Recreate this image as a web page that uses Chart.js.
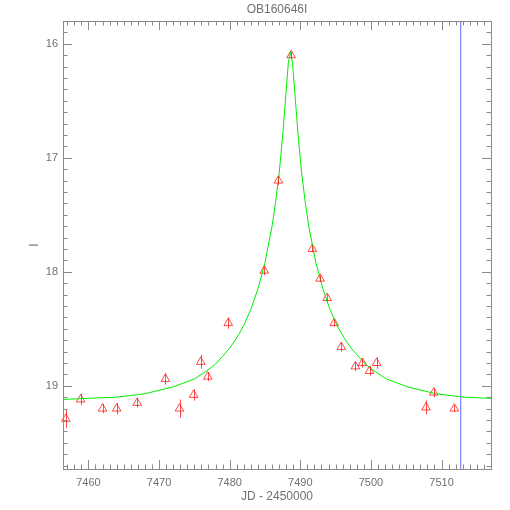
<!DOCTYPE html>
<html>
<head>
<meta charset="utf-8">
<script src="https://cdn.jsdelivr.net/npm/chart.js@4"></script>
<style>
  html, body { margin: 0; padding: 0; background: #fff; }
</style>
</head>
<body>
<canvas id="lcChart" width="510" height="510"></canvas>
<script>
const chartTitle = 'OB160646I';
const xTitle = 'JD - 2450000';
const yTitle = 'I';

// observed points (JD - 2450000, I mag, error)
const obsJD  = [7456.8, 7458.9, 7462.0, 7464.0, 7466.9, 7470.9, 7472.9, 7474.9, 7475.9, 7476.9,
                7479.8, 7484.9, 7486.9, 7488.7, 7491.7, 7492.8, 7493.8, 7494.8, 7495.8, 7497.8,
                7498.8, 7499.8, 7500.8, 7507.8, 7508.9, 7511.8];
const obsMag = [19.29, 19.12, 19.20, 19.20, 19.15, 18.94, 19.20, 19.08, 18.79, 18.92,
                18.45, 17.99, 17.20, 16.10, 17.80, 18.06, 18.23, 18.45, 18.66, 18.83,
                18.80, 18.87, 18.80, 19.19, 19.06, 19.20];
const obsErr = [0.08, 0.05, 0.04, 0.05, 0.04, 0.05, 0.08, 0.05, 0.06, 0.04,
                0.05, 0.04, 0.04, 0.03, 0.03, 0.03, 0.03, 0.03, 0.04, 0.04,
                0.04, 0.04, 0.05, 0.06, 0.04, 0.03];

// model curve
const fitJD  = [7456.4, 7460.0, 7464.0, 7468.0, 7470.0, 7472.0, 7475.0, 7476.5, 7478.0, 7480.0,
                7481.0, 7482.0, 7483.0, 7484.0, 7485.0, 7486.0, 7486.5, 7487.0, 7487.5, 7488.0,
                7488.3, 7488.6, 7488.9, 7489.2, 7489.7, 7490.2, 7490.7, 7491.2, 7492.2, 7493.2,
                7494.2, 7495.2, 7496.2, 7497.2, 7499.2, 7500.7, 7502.2, 7505.2, 7507.2, 7509.2,
                7513.2, 7517.0];
const fitMag = [19.12, 19.11, 19.10, 19.07, 19.04, 19.01, 18.94, 18.88, 18.81, 18.67,
                18.58, 18.47, 18.33, 18.15, 17.92, 17.60, 17.39, 17.14, 16.81, 16.41,
                16.17, 16.07, 16.17, 16.41, 16.81, 17.14, 17.39, 17.60, 17.92, 18.15,
                18.33, 18.47, 18.58, 18.67, 18.81, 18.88, 18.94, 19.01, 19.04, 19.07,
                19.10, 19.11];

const markerJD = 7512.7;
const xRange = [7456.4, 7517.0];
const yRange = [15.80, 19.73];

const axisColor = '#8a8a8a';
const textColor = '#707070';
const fontFamily = '"Liberation Sans", Arial, sans-serif';

// IDL style frame with inward ticks on all four sides, plus the plot title
const frameTicks = {
    id: 'frameTicks',
    afterDraw(chart) {
        const { ctx, chartArea: a, scales: { x, y } } = chart;
        ctx.save();
        ctx.strokeStyle = axisColor;
        ctx.lineWidth = 1;
        ctx.strokeRect(Math.round(a.left) + 0.5, Math.round(a.top) + 0.5,
                       Math.round(a.right - a.left), Math.round(a.bottom - a.top));
        ctx.beginPath();
        for (let v = Math.ceil(xRange[0]); v <= xRange[1]; v++) {
            const px = Math.round(x.getPixelForValue(v)) + 0.5;
            const len = v % 10 === 0 ? 9 : 4.5;
            ctx.moveTo(px, a.bottom); ctx.lineTo(px, a.bottom - len);
            ctx.moveTo(px, a.top); ctx.lineTo(px, a.top + len);
        }
        for (let i = Math.ceil(yRange[0] * 10); i <= Math.floor(yRange[1] * 10); i++) {
            const py = Math.round(y.getPixelForValue(i / 10)) + 0.5;
            const len = i % 10 === 0 ? 9 : 4.5;
            ctx.moveTo(a.left, py); ctx.lineTo(a.left + len, py);
            ctx.moveTo(a.right, py); ctx.lineTo(a.right - len, py);
        }
        ctx.stroke();
        ctx.fillStyle = textColor;
        ctx.font = '12px ' + fontFamily;
        ctx.textAlign = 'center';
        ctx.textBaseline = 'middle';
        ctx.fillText(chartTitle, (a.left + a.right) / 2, 10);
        ctx.restore();
    }
};

const errorBars = {
    id: 'errorBars',
    afterDatasetsDraw(chart) {
        const { ctx, scales: { x, y } } = chart;
        ctx.save();
        ctx.strokeStyle = 'rgba(255,0,0,0.7)';
        ctx.lineWidth = 1;
        ctx.beginPath();
        obsJD.forEach((jd, i) => {
            const px = Math.round(x.getPixelForValue(jd)) + 0.5;
            ctx.moveTo(px, y.getPixelForValue(obsMag[i] - obsErr[i]));
            ctx.lineTo(px, y.getPixelForValue(obsMag[i] + obsErr[i]));
        });
        ctx.stroke();
        ctx.restore();
    }
};

const ctx = document.getElementById('lcChart').getContext('2d');
const chart = new Chart(ctx, {
    type: 'scatter',
    data: {
        datasets: [{
            type: 'line',
            data: fitJD.map((t, i) => ({ x: t, y: fitMag[i] })),
            borderColor: '#00ee00',
            borderWidth: 1,
            pointRadius: 0,
            tension: 0
        }, {
            type: 'line',
            data: [{ x: markerJD, y: yRange[0] }, { x: markerJD, y: yRange[1] }],
            borderColor: '#8c8cff',
            borderWidth: 1,
            pointRadius: 0
        }, {
            data: obsJD.map((t, i) => ({ x: t, y: obsMag[i] })),
            pointStyle: 'triangle',
            pointRadius: 5,
            borderColor: 'rgba(255,0,0,0.7)',
            backgroundColor: 'rgba(0,0,0,0)',
            borderWidth: 1,
            clip: false
        }]
    },
    options: {
        responsive: false,
        animation: false,
        layout: { padding: { top: 21, right: 19, left: 0, bottom: 0 } },
        plugins: { legend: { display: false }, tooltip: { enabled: false } },
        scales: {
            x: {
                type: 'linear',
                min: xRange[0],
                max: xRange[1],
                grid: { display: false, drawTicks: false },
                border: { display: false },
                ticks: {
                    stepSize: 10,
                    includeBounds: false,
                    padding: 7,
                    color: textColor,
                    font: { family: fontFamily, size: 11 },
                    callback: v => String(v)
                },
                title: {
                    display: true,
                    text: xTitle,
                    color: textColor,
                    font: { family: fontFamily, size: 12 },
                    padding: { top: 0, bottom: 6 }
                },
                afterFit(scale) { scale.height = 41; }
            },
            y: {
                type: 'linear',
                reverse: true,
                min: yRange[0],
                max: yRange[1],
                grid: { display: false, drawTicks: false },
                border: { display: false },
                ticks: {
                    stepSize: 1,
                    includeBounds: false,
                    padding: 5,
                    color: textColor,
                    font: { family: fontFamily, size: 11 },
                    callback: v => String(v)
                },
                title: {
                    display: true,
                    text: yTitle,
                    color: textColor,
                    font: { family: fontFamily, size: 12 },
                    padding: { top: 27, bottom: 0 }
                },
                afterFit(scale) { scale.width = 63; }
            }
        }
    },
    plugins: [errorBars, frameTicks]
});
</script>
</body>
</html>
